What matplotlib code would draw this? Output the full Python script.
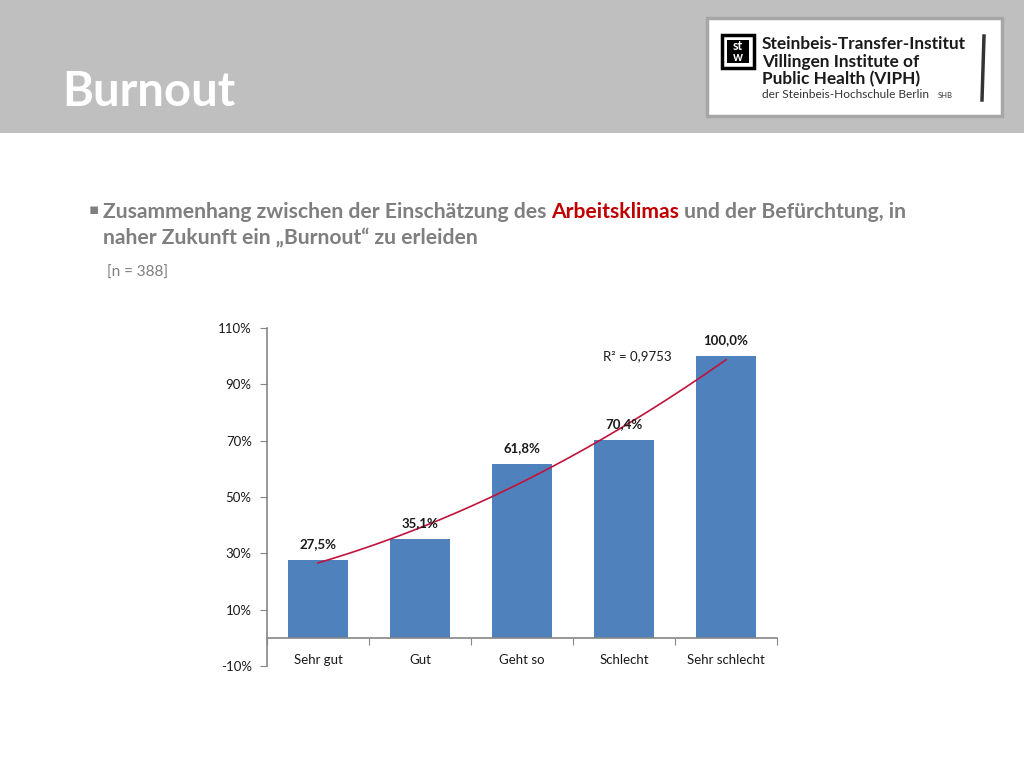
import numpy as np
import matplotlib.pyplot as plt
from matplotlib.patches import Rectangle
from matplotlib.ticker import FixedLocator, NullFormatter

# data from the slide
categories = ["Sehr gut", "Gut", "Geht so", "Schlecht", "Sehr schlecht"]
values = [27.5, 35.1, 61.8, 70.4, 100.0]
value_labels = ["27,5%", "35,1%", "61,8%", "70,4%", "100,0%"]
yticks = [-10, 10, 30, 50, 70, 90, 110]
r2_text = "R² = 0,9753"

bar_color = "#4F81BD"
trend_color = "#C0143C"
text_gray = "#7F7F7F"
font = "Lato"
plt.rcParams['font.family'] = [font, 'DejaVu Sans']

fig = plt.figure(figsize=(10.24, 7.68), dpi=100)
fig.patch.set_facecolor("white")

def px(x, y):
    # pixel coords (top-left origin) -> figure fraction
    return x / 1024, 1 - y / 768

# header band
fig.add_artist(Rectangle((0, 1 - 133 / 768), 1, 133 / 768, transform=fig.transFigure,
                         facecolor="#BFBFBF", edgecolor="none", zorder=0))
fig.text(*px(62, 92), "Burnout", color="white", fontsize=34, fontweight="bold",
         va="center", ha="left")

# logo box
fig.add_artist(Rectangle(px(707, 116), 295 / 1024, 98 / 768, transform=fig.transFigure,
                         facecolor="white", edgecolor="#A6A6A6", lw=2.5, zorder=1))
fig.add_artist(Rectangle(px(722, 68), 32 / 1024, 33 / 768, transform=fig.transFigure,
                         facecolor="white", edgecolor="black", lw=2.5, zorder=2))
fig.add_artist(Rectangle(px(727, 63), 22 / 1024, 23 / 768, transform=fig.transFigure,
                         facecolor="black", edgecolor="none", zorder=2))
fig.text(*px(738, 46), "st", color="white", fontsize=9, fontweight="bold",
         ha="center", va="center", zorder=3)
fig.text(*px(738, 57), "w", color="white", fontsize=9, fontweight="bold",
         ha="center", va="center", zorder=3)
for yy, s in [(44, "Steinbeis-Transfer-Institut"), (62, "Villingen Institute of"),
              (79, "Public Health (VIPH)")]:
    fig.text(*px(762, yy), s, color="#1A1A1A", fontsize=12.4, fontweight="bold",
             va="center", zorder=3)
fig.text(*px(762, 95), "der Steinbeis-Hochschule Berlin", color="#333333", fontsize=8.6,
         va="center", zorder=3)
fig.text(*px(938, 96), "SHB", color="#333333", fontsize=5.5, va="center", zorder=3)
fig.add_artist(plt.Line2D([984 / 1024, 982 / 1024], [1 - 36 / 768, 1 - 100 / 768],
                          transform=fig.transFigure, color="#333333", lw=2.5, zorder=3))

# bullet text
fig.text(*px(89, 210), "▪", color=text_gray, fontsize=11, family="DejaVu Sans", va="center")
fig.canvas.draw()
renderer = fig.canvas.get_renderer()
x0 = 103 / 1024
y1 = 1 - 212 / 768
pieces = [("Zusammenhang zwischen der Einschätzung des ", text_gray),
          ("Arbeitsklimas", "#C00000"),
          (" und der Befürchtung, in", text_gray)]
xc = x0
for s, c in pieces:
    t = fig.text(xc, y1, s, color=c, fontsize=15.2, fontweight="bold", va="center")
    bb = t.get_window_extent(renderer)
    xc += bb.width / fig.bbox.width
fig.text(x0, 1 - 238 / 768, "naher Zukunft ein „Burnout“ zu erleiden", color=text_gray,
         fontsize=15.2, fontweight="bold", va="center")
fig.text(*px(107, 273), "[n = 388]", color=text_gray, fontsize=11, va="center")

# chart
ax = fig.add_axes([267 / 1024, 1 - 666 / 768, 510 / 1024, 338 / 768])
x = np.arange(len(categories))
ax.bar(x, values, width=0.59, color=bar_color, zorder=2)
for xi, v, lab in zip(x, values, value_labels):
    ax.text(xi, v + 3.5, lab, ha="center", va="bottom", fontsize=9.5, fontweight="bold",
            color="#1A1A1A", zorder=4)

# quadratic trendline (Excel uses x = 1..n)
coef = np.polyfit(x + 1, values, 2)
xs = np.linspace(0, len(categories) - 1, 200)
ax.plot(xs, np.polyval(coef, xs + 1), color=trend_color, lw=1.2, zorder=3)
ax.text(3.13, 100, r2_text, ha="center", va="center", fontsize=9.5, color="#1A1A1A")

ax.set_xlim(-0.5, len(categories) - 0.5)
ax.set_ylim(-10, 110)
ax.set_yticks(yticks)
ax.set_yticklabels([f"{t}%" for t in yticks], fontsize=9.5, color="#1A1A1A")
ax.xaxis.set_major_locator(FixedLocator(np.arange(-0.5, len(categories), 1.0)))
ax.xaxis.set_major_formatter(NullFormatter())
ax.xaxis.set_minor_locator(FixedLocator(x))
ax.set_xticklabels(categories, minor=True, fontsize=9.5, color="#1A1A1A")
ax.tick_params(axis="x", which="minor", length=0, pad=12, labelsize=9.5, labelcolor="#1A1A1A")
ax.tick_params(axis="x", which="major", length=5, color="#868686", direction="out")
ax.tick_params(axis="y", length=5, color="#868686", pad=6)
ax.spines["bottom"].set_position(("data", 0))
for sp in ["top", "right"]:
    ax.spines[sp].set_visible(False)
for sp in ["left", "bottom"]:
    ax.spines[sp].set_color("#868686")
    ax.spines[sp].set_linewidth(1.2)
ax.set_facecolor("none")

fig.savefig("out.png", dpi=100)
